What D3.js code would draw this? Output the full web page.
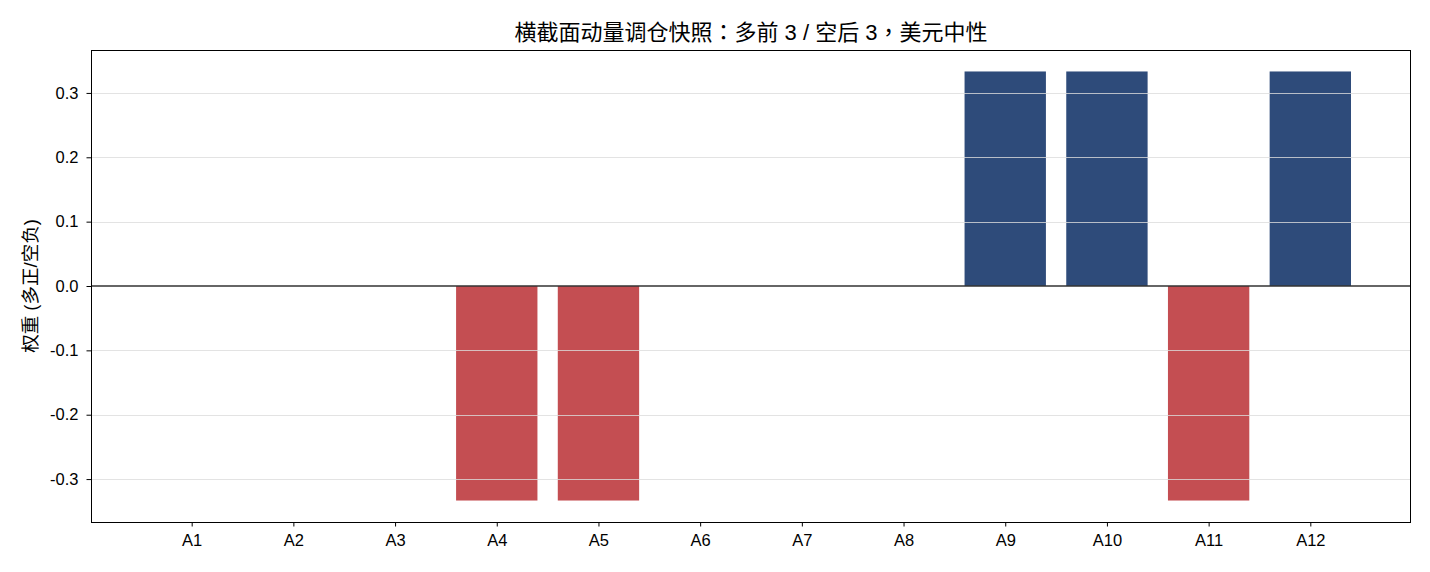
<!DOCTYPE html>
<html><head><meta charset="utf-8">
<script src="https://cdn.jsdelivr.net/npm/d3@7"></script>
<style>body{margin:0;background:#fff}svg{display:block}</style>
</head><body>
<script>
const categories = ["A1","A2","A3","A4","A5","A6","A7","A8","A9","A10","A11","A12"];
const weights = [0,0,0,-1/3,-1/3,0,0,0,1/3,1/3,-1/3,1/3];
const yTicks = [-0.3,-0.2,-0.1,0.0,0.1,0.2,0.3];
const titleText = "横截面动量调仓快照：多前 3 / 空后 3，美元中性";
const yLabelText = "权重 (多正/空负)";

const W = 1430, H = 572;
const m = {left: 91, right: 19, top: 50, bottom: 50};
const fontLatin = "'Liberation Sans', Arial, 'Noto Sans CJK SC', sans-serif";
const fontCJK = "'Liberation Sans', 'Noto Sans CJK SC', sans-serif";
const fontPunct = "'Noto Sans CJK TC', 'Noto Sans CJK SC', sans-serif";

const svg = d3.select("body").append("svg").attr("width", W).attr("height", H);
const x = d3.scaleLinear().domain([-0.99, 11.99]).range([m.left, W - m.right]);
const y = d3.scaleLinear().domain([-0.3667, 0.3667]).range([H - m.bottom, m.top]);

const g = svg.append("g");
// bars
g.selectAll("rect.bar").data(weights).enter().append("rect")
  .attr("class","bar")
  .attr("x", (d,i) => x(i - 0.4))
  .attr("width", x(0.4) - x(-0.4))
  .attr("y", d => y(Math.max(0,d)))
  .attr("height", d => Math.abs(y(d) - y(0)))
  .attr("fill", d => d > 0 ? "#2e4b7a" : "#c44e52");

// grid on top
g.selectAll("line.grid").data(yTicks.filter(d => d !== 0)).enter().append("line")
  .attr("x1", m.left).attr("x2", W - m.right)
  .attr("y1", d => Math.round(y(d)) + 0.5).attr("y2", d => Math.round(y(d)) + 0.5)
  .attr("stroke", "#dcdcdc").attr("stroke-width", 0.8);

// zero line
g.append("line").attr("x1", m.left).attr("x2", W - m.right)
  .attr("y1", y(0)).attr("y2", y(0)).attr("stroke", "#333").attr("stroke-width", 1.4);

// axes
const fmt = d => d3.format(".1f")(d).replace("−", "-");
const yAxis = d3.axisLeft(y).tickValues(yTicks).tickFormat(fmt).tickSize(4.5).tickPadding(8);
const ya = svg.append("g").attr("transform", `translate(${m.left},0)`).call(yAxis);
ya.select(".domain").remove();
ya.selectAll("text").attr("font-size", 16.5).attr("font-family", fontLatin).attr("fill","#000");
ya.selectAll("line").attr("stroke","#000");

const xAxis = d3.axisBottom(x).tickValues(d3.range(categories.length)).tickFormat(i => categories[i]).tickSize(4.5).tickPadding(8);
const xa = svg.append("g").attr("transform", `translate(0,${H - m.bottom})`).call(xAxis);
xa.select(".domain").remove();
xa.selectAll("text").attr("font-size", 16.5).attr("font-family", fontLatin).attr("fill","#000");
xa.selectAll("line").attr("stroke","#000");

// frame
svg.append("rect").attr("x", m.left + 0.5).attr("y", m.top + 0.5)
  .attr("width", W - m.left - m.right - 1).attr("height", H - m.top - m.bottom)
  .attr("fill","none").attr("stroke","#000").attr("stroke-width",1);

// title (full-width punctuation centred, as in the reference)
const title = svg.append("text").attr("x", (m.left + W - m.right)/2).attr("y", 40)
  .attr("text-anchor","middle").attr("font-size", 22).attr("font-family", fontCJK)
  .attr("fill","#000");
titleText.split(/([：，])/).forEach(part => {
  if (!part) return;
  const t = title.append("tspan").text(part);
  if (/[：，]/.test(part)) t.attr("font-family", fontPunct);
});

// y label
svg.append("text").attr("transform", `translate(37,${(m.top + H - m.bottom)/2}) rotate(-90)`)
  .attr("text-anchor","middle").attr("font-size", 18.5).attr("font-family", fontCJK)
  .attr("fill","#000").text(yLabelText);
</script>
</body></html>
